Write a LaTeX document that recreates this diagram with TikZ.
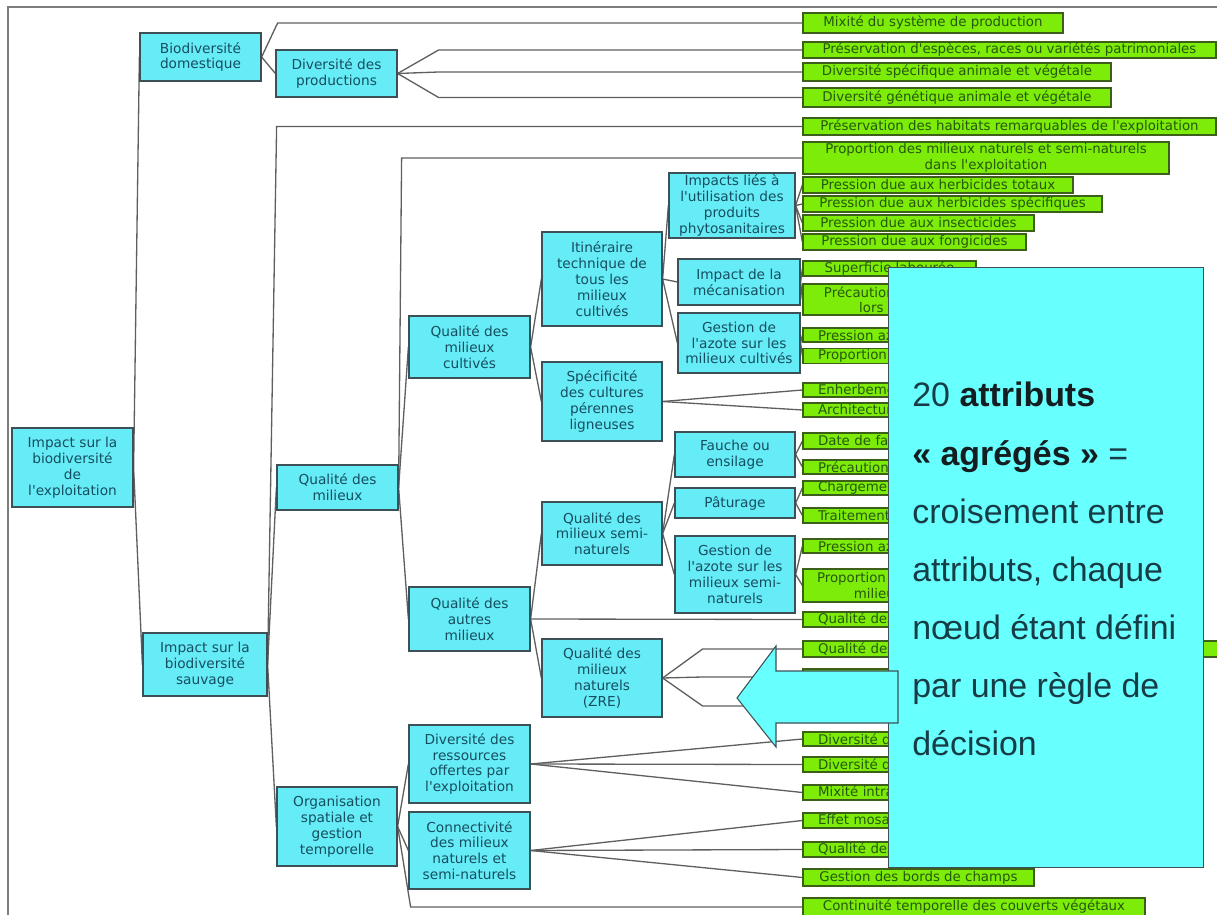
\documentclass[tikz,border=0pt]{standalone}
\usepackage{fontspec}
\usetikzlibrary{calc}
\newfontfamily\dvs{DejaVu Sans}
\newfontfamily\lsans{Liberation Sans}
\definecolor{ncyan}{RGB}{102,236,246}
\definecolor{ocyan}{RGB}{104,255,255}
\definecolor{ngreen}{RGB}{124,236,8}
\definecolor{ctext}{RGB}{22,78,96}
\definecolor{gtext}{RGB}{38,88,12}
\definecolor{cborder}{RGB}{60,80,85}
\definecolor{gborder}{RGB}{60,95,25}
\definecolor{linkc}{RGB}{95,95,95}
\definecolor{otext}{RGB}{22,60,70}
\definecolor{obold}{RGB}{20,30,32}
\definecolor{framec}{RGB}{125,125,125}
\pgfdeclarelayer{bg}
\pgfsetlayers{bg,main}
\newcommand{\cnode}[6]{\node[cbox, minimum width={(#4-#2)*0.02cm}, minimum height={(#5-#3)*0.02cm}] (#1) at ({(#2+#4)/2},{(#3+#5)/2}) {#6};}
\newcommand{\gnode}[5]{\node[gbox, minimum width={(#4-803)*0.02cm}, minimum height={(#3-#2)*0.02cm}] (#1) at ({(803+#4)/2},{(#2+#3)/2}) {#5};}
\newcommand{\hnode}[4]{\node[gbox, align=left, inner xsep=0.3cm, text width=5.34cm, minimum height={(#3-#2)*0.02cm}] (#1) at (951.5,{(#2+#3)/2}) {#4};}
\begin{document}
\begin{tikzpicture}[x=0.02cm,y=-0.02cm,
  cbox/.style={draw=cborder, fill=ncyan, line width=0.7pt, text=ctext, font=\dvs\fontsize{7.8}{9}\selectfont, align=center, inner sep=0.5pt},
  gbox/.style={draw=gborder, fill=ngreen, line width=0.7pt, text=gtext, font=\dvs\fontsize{7.6}{8.8}\selectfont, align=center, inner xsep=2pt, inner ysep=0.3pt},
  link/.style={draw=linkc, line width=0.75pt},
  obox/.style={draw=cborder, fill=ocyan, line width=0.6pt, inner sep=0pt},
  otxt/.style={anchor=base west, text=otext, font=\lsans\fontsize{19.3}{24}\selectfont, inner sep=0pt}]
\useasboundingbox (0,0) rectangle (1217,915);
\clip (0,0) rectangle (1217,915);
\draw[framec, line width=0.8pt] (8,915) -- (8,7) -- (1217,7);

% cyan nodes
\cnode{root}{12}{428}{133}{507}{Impact sur la\\biodiversité\\de\\l'exploitation}
\cnode{bd}{140}{33}{261}{81}{Biodiversité\\domestique}
\cnode{dp}{276}{50}{397}{97}{Diversité des\\productions}
\cnode{sauv}{143}{633}{267}{696}{Impact sur la\\biodiversité\\sauvage}
\cnode{qm}{277}{465}{398}{510}{Qualité des\\milieux}
\cnode{org}{277}{787}{397}{866}{Organisation\\spatiale et\\gestion\\temporelle}
\cnode{qmc}{409}{316}{530}{378}{Qualité des\\milieux\\cultivés}
\cnode{iti}{542}{232}{662}{326}{Itinéraire\\technique de\\tous les\\milieux\\cultivés}
\cnode{spe}{542}{362}{662}{441}{Spécificité\\des cultures\\pérennes\\ligneuses}
\cnode{qsn}{542}{502}{662}{565}{Qualité des\\milieux semi-\\naturels}
\cnode{qam}{409}{587}{530}{651}{Qualité des\\autres\\milieux}
\cnode{zre}{542}{639}{662}{717}{Qualité des\\milieux\\naturels\\(ZRE)}
\cnode{dro}{409}{725}{530}{803}{Diversité des\\ressources\\offertes par\\l'exploitation}
\cnode{con}{409}{812}{530}{889}{Connectivité\\des milieux\\naturels et\\semi-naturels}
\cnode{ilp}{669}{173}{795}{238}{Impacts liés à\\l'utilisation des\\produits\\phytosanitaires}
\cnode{ime}{678}{259}{800}{305}{Impact de la\\mécanisation}
\cnode{gac}{678}{313}{800}{373}{Gestion de\\l'azote sur les\\milieux cultivés}
\cnode{fau}{675}{432}{795}{477}{Fauche ou\\ensilage}
\cnode{pat}{675}{488}{795}{518}{Pâturage}
\cnode{gas}{675}{536}{795}{613}{Gestion de\\l'azote sur les\\milieux semi-\\naturels}

% green nodes
\gnode{g1}{13}{33}{1063}{Mixité du système de production}
\gnode{g2}{42}{58}{1216}{Préservation d'espèces, races ou variétés patrimoniales}
\gnode{g3}{63}{81}{1111}{Diversité spécifique animale et végétale}
\gnode{g4}{88}{107}{1111}{Diversité génétique animale et végétale}
\gnode{g5}{118}{135}{1216}{Préservation des habitats remarquables de l'exploitation}
\gnode{g6}{142}{174}{1169}{Proportion des milieux naturels et semi-naturels\\dans l'exploitation}
\gnode{g7}{177}{193}{1073}{Pression due aux herbicides totaux}
\gnode{g8}{196}{212}{1102}{Pression due aux herbicides spécifiques}
\gnode{g9}{215}{231}{1034}{Pression due aux insecticides}
\gnode{g10}{234}{250}{1026}{Pression due aux fongicides}
\gnode{g11}{261}{276}{976}{Superficie labourée}
\gnode{g12}{284}{315}{1060}{Précautions prises pour la faune\\lors des interventions}
\hnode{g13}{328}{342}{Pression azotée}
\hnode{g14}{349}{363}{Proportion de légumineuses}
\hnode{g15}{383}{397}{Enherbement}
\hnode{g16}{403}{417}{Architecture}
\hnode{g17}{433}{449}{Date de fauche}
\hnode{g18}{460}{474}{Précautions}
\hnode{g19}{481}{495}{Chargement animal}
\hnode{g20}{508}{523}{Traitements}
\hnode{g21}{539}{553}{Pression azotée}
\node[gbox, align=left, inner xsep=0.28cm, text width=3.82cm, minimum height=0.66cm] (g22) at (912.5,585.5) {Proportion de\\\hspace*{21pt}milieux};
\hnode{g23}{612}{627}{Qualité des}
\node[gbox, align=left, inner xsep=0.3cm, text width=8.14cm, minimum height=0.32cm] (g24) at (1021.5,649) {Qualité des};
\hnode{g25}{669}{685}{}
\hnode{g26}{698}{714}{}
\hnode{g27}{732}{746}{Diversité des}
\hnode{g28}{757}{772}{Diversité des}
\hnode{g29}{785}{800}{Mixité intra-parcellaire}
\hnode{g30}{813}{828}{Effet mosaïque}
\hnode{g31}{842}{857}{Qualité des lisières}
\gnode{g32}{869}{886}{1034}{Gestion des bords de champs}
\gnode{g33}{898}{916}{1145}{Continuité temporelle des couverts végétaux}

% knee points
\coordinate (kbd) at ([xshift=0.32cm]bd.east);
\coordinate (kdp) at ([xshift=0.82cm]dp.east);
\coordinate (ksv) at ([xshift=0.18cm]sauv.east);
\coordinate (kqm) at ([xshift=0.06cm]qm.east);
\coordinate (kzr) at ([xshift=0.8cm]zre.east);
\coordinate (kor) at ([xshift=0.26cm]org.east);

\begin{pgfonlayer}{bg}
\draw[link] (root.east) -- (bd.west);
\draw[link] (root.east) -- (sauv.west);
\draw[link] (bd.east) -- (kbd |- g1.west) -- (g1.west);
\draw[link] (bd.east) -- (dp.west);
\foreach \g in {g2,g3,g4} \draw[link] (dp.east) -- (kdp |- \g.west) -- (\g.west);
\draw[link] (sauv.east) -- (ksv |- g5.west) -- (g5.west);
\draw[link] (sauv.east) -- (qm.west);
\draw[link] (sauv.east) -- (org.west);
\draw[link] (qm.east) -- (kqm |- g6.west) -- (g6.west);
\draw[link] (qm.east) -- (qmc.west);
\draw[link] (qm.east) -- (qam.west);
\draw[link] (qmc.east) -- (iti.west);
\draw[link] (qmc.east) -- (spe.west);
\foreach \c in {ilp,ime,gac} \draw[link] (iti.east) -- (\c.west);
\foreach \g in {g7,g8,g9,g10} \draw[link] (ilp.east) -- (\g.west);
\foreach \g in {g11,g12} \draw[link] (ime.east) -- (\g.west);
\foreach \g in {g13,g14} \draw[link] (gac.east) -- (\g.west);
\foreach \g in {g15,g16} \draw[link] (spe.east) -- (\g.west);
\draw[link] (qam.east) -- (qsn.west);
\draw[link] (qam.east) -- (g23.west);
\draw[link] (qam.east) -- (zre.west);
\foreach \c in {fau,pat,gas} \draw[link] (qsn.east) -- (\c.west);
\foreach \g in {g17,g18} \draw[link] (fau.east) -- (\g.west);
\foreach \g in {g19,g20} \draw[link] (pat.east) -- (\g.west);
\foreach \g in {g21,g22} \draw[link] (gas.east) -- (\g.west);
\foreach \g in {g24,g25,g26} \draw[link] (zre.east) -- (kzr |- \g.west) -- (\g.west);
\draw[link] (org.east) -- (dro.west);
\draw[link] (org.east) -- (con.west);
\draw[link] (org.east) -- (kor |- g33.west) -- (g33.west);
\foreach \g in {g27,g28,g29} \draw[link] (dro.east) -- (\g.west);
\foreach \g in {g30,g31,g32} \draw[link] (con.east) -- (\g.west);
\end{pgfonlayer}

% overlay
\node[obox, minimum width=6.3cm, minimum height=12cm, anchor=north west] (ovl) at (888,267) {};
\filldraw[draw=cborder, fill=ocyan, line width=0.6pt] (737,698) -- (776,646) -- (776,671) -- (898,671) -- (898,723) -- (776,723) -- (776,747) -- cycle;
\node[otxt] (ot1) at (912,407) {20 \textbf{\color{obold}attributs}};
\node[otxt] (ot2) at (912,465) {\textbf{\color{obold}« agrégés »} =};
\node[otxt] (ot3) at (912,523) {croisement entre};
\node[otxt] (ot4) at (912,581) {attributs, chaque};
\node[otxt] (ot5) at (912,639) {nœud étant défini};
\node[otxt] (ot6) at (912,697) {par une règle de};
\node[otxt] (ot7) at (912,755) {décision};
\end{tikzpicture}
\end{document}
